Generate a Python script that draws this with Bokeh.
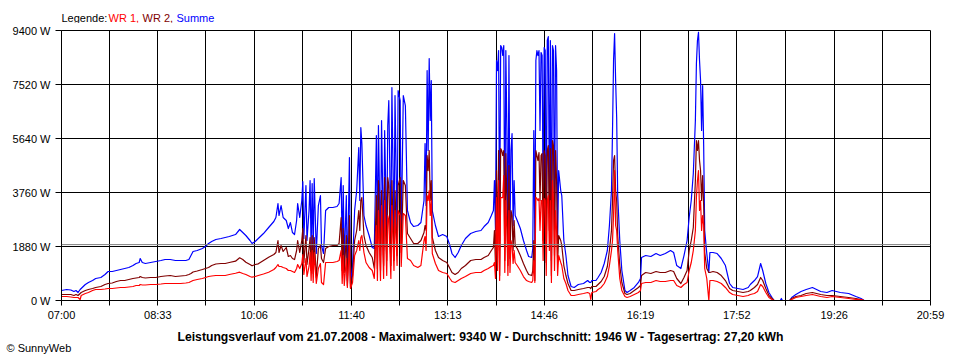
from bokeh.plotting import figure
from bokeh.layouts import column
from bokeh.models import FixedTicker, Span, Label, Range1d
from bokeh.embed import file_html
from bokeh.resources import INLINE

# time of each sample, minutes after midnight
zeit = [
    420, 425, 429, 432, 434, 436, 438, 439, 443, 446,
    450, 453, 458, 462, 465, 469, 473, 477, 481, 485,
    489, 492, 495, 496, 498, 501, 506, 511, 516, 520,
    525, 530, 535, 540, 543, 545, 547, 551, 556, 559,
    562, 565, 569, 574, 578, 582, 588, 592, 595, 598,
    602, 604, 607, 610, 615, 620, 625, 627, 629, 630,
    632, 634, 637, 639, 641, 643, 645, 647, 648, 650,
    652, 653, 654, 656, 657, 659, 660, 661, 662, 663,
    664, 666, 668, 670, 671, 673, 675, 678, 682, 686,
    688, 690, 691, 692, 693, 695, 696, 698, 699, 701,
    703, 705, 707, 708, 709, 710, 712, 714, 717, 720,
    722, 724, 725, 726, 728, 729, 731, 732, 734, 735,
    736, 738, 739, 741, 742, 744, 745, 747, 748, 750,
    752, 754, 757, 760, 764, 767, 770, 771, 772, 773,
    774, 775, 776, 777, 778, 781, 784, 788, 792, 795,
    797, 800, 803, 806, 810, 815, 820, 825, 828, 832,
    835, 837, 838, 839, 840, 841, 842, 843, 844, 845,
    846, 847, 848, 849, 850, 851, 852, 853, 854, 855,
    856, 857, 858, 860, 863, 866, 869, 871, 874, 875,
    876, 877, 878, 879, 880, 881, 882, 883, 884, 885,
    886, 887, 888, 889, 890, 891, 892, 893, 894, 895,
    896, 897, 898, 899, 900, 902, 903, 905, 907, 909,
    912, 915, 919, 924, 928, 930, 931, 932, 936, 938,
    941, 944, 947, 949, 951, 952, 953, 954, 955, 956,
    957, 959, 961, 964, 966, 969, 973, 977, 979, 980,
    984, 989, 994, 998, 1003, 1008, 1011, 1014, 1018, 1021,
    1024, 1026, 1028, 1030, 1032, 1033, 1034, 1035, 1036, 1037,
    1038, 1039, 1040, 1041, 1043, 1045, 1046, 1049, 1053, 1057,
    1061, 1065, 1068, 1073, 1078, 1083, 1085, 1089, 1092, 1095,
    1097, 1100, 1103, 1106, 1108, 1114, 1115, 1116, 1123, 1125,
    1129, 1134, 1139, 1145, 1149, 1153, 1159, 1164, 1172, 1180,
    1187, 1192, 1195,
]

summe = [
    348, 383, 365, 313, 348, 278, 383, 418, 557, 627,
    696, 766, 801, 905, 1009, 1009, 1044, 1079, 1114, 1149,
    1218, 1288, 1323, 1462, 1323, 1288, 1323, 1358, 1392, 1427,
    1427, 1392, 1392, 1392, 1427, 1566, 1706, 1741, 1810, 1880,
    1984, 2054, 2123, 2158, 2193, 2228, 2297, 2472, 2367, 2263,
    2089, 1984, 2054, 2158, 2332, 2541, 2750, 2889, 3377, 2959,
    3307, 2889, 2785, 2506, 2715, 2367, 2297, 2785, 3377, 2889,
    3481, 4142, 2158, 4003, 2089, 3133, 4177, 1741, 4073, 1671,
    4247, 1636, 3307, 3655, 1915, 1636, 3133, 3237, 3237, 3272,
    3377, 4282, 1636, 4003, 1323, 3655, 696, 4978, 592, 1218,
    3133, 3829, 5326, 3481, 6022, 5465, 2959, 2611, 2263, 1845,
    1810, 5744, 1741, 6092, 1566, 6266, 1741, 5918, 2089, 6092,
    6962, 1984, 7415, 2089, 7136, 2193, 7310, 6962, 2089, 7136,
    6788, 3133, 2715, 2576, 2611, 2715, 3481, 5465, 3307, 8006,
    5222, 8424, 6266, 7658, 3133, 2611, 2228, 2297, 2228, 1915,
    1636, 1497, 1671, 1915, 2158, 2332, 2402, 2437, 2576, 2715,
    2959, 3133, 4177, 2437, 8354, 8006, 8703, 2089, 8877, 8807,
    8529, 8877, 2089, 8703, 5918, 1915, 8529, 2437, 5222, 5813,
    2611, 4177, 2959, 2785, 2506, 2089, 1741, 1532, 1497, 1810,
    5918, 2089, 8354, 8703, 8529, 8703, 5918, 8633, 8529, 3481,
    8807, 8703, 2089, 9051, 9190, 3481, 9051, 1392, 8877, 8703,
    2437, 8877, 8006, 2089, 4525, 3829, 3655, 2089, 1566, 870,
    487, 453, 557, 592, 696, 627, 627, 696, 696, 801,
    975, 1288, 1741, 2611, 3829, 5918, 8354, 9294, 7658, 6370,
    3655, 2089, 1044, 348, 278, 348, 453, 627, 766, 1497,
    1566, 1532, 1636, 1566, 1636, 1741, 1671, 1218, 1114, 1566,
    2089, 2889, 3481, 4421, 6266, 8250, 9051, 9340, 8354, 7658,
    5918, 7484, 5396, 2437, 1636, 975, 1671, 1671, 1636, 1462,
    1218, 592, 453, 418, 383, 453, 557, 696, 835, 1288,
    1044, 592, 278, 104, 0, 0, 70, 0, 0, 104,
    209, 313, 383, 453, 383, 313, 278, 348, 278, 244,
    139, 70, 0,
]

wr2 = [
    209, 209, 209, 174, 209, 174, 244, 278, 348, 383,
    418, 453, 487, 557, 592, 609, 661, 696, 696, 731,
    766, 783, 801, 835, 801, 783, 801, 801, 835, 853,
    870, 835, 853, 870, 905, 940, 992, 1027, 1079, 1114,
    1149, 1218, 1271, 1288, 1288, 1323, 1368, 1486, 1427, 1333,
    1253, 1208, 1253, 1278, 1392, 1507, 1601, 1671, 2089, 1671,
    1915, 1706, 1845, 1532, 1566, 1462, 1427, 1741, 2089, 1671,
    2089, 2506, 1323, 2263, 1253, 1810, 2193, 1044, 2263, 940,
    2193, 801, 1810, 1915, 1462, 1323, 1810, 1880, 1915, 1915,
    1984, 2889, 1044, 2506, 975, 2263, 522, 2959, 453, 870,
    2089, 2437, 3133, 2437, 3481, 3585, 2263, 1915, 1671, 1497,
    1114, 3655, 1114, 4177, 1044, 3829, 1218, 4282, 1392, 4282,
    4003, 1218, 4177, 1392, 3829, 1566, 4003, 4282, 1671, 4177,
    4003, 2332, 2158, 1984, 1984, 2089, 2367, 2611, 2437, 5047,
    4525, 5222, 3481, 4177, 2193, 1741, 1497, 1392, 1323, 1114,
    975, 905, 975, 1114, 1218, 1392, 1427, 1427, 1497, 1566,
    1741, 1845, 2437, 1218, 4525, 1741, 5222, 870, 5292, 5222,
    5047, 5222, 1392, 5117, 3481, 1218, 4699, 1462, 3133, 2959,
    1741, 2785, 1915, 1810, 1566, 1288, 1044, 905, 870, 1044,
    2089, 696, 5222, 5047, 4873, 5152, 3481, 5047, 5117, 2089,
    5222, 5047, 1323, 5222, 5396, 2437, 5292, 870, 5570, 5396,
    1566, 5222, 4177, 1323, 2263, 2089, 1915, 1218, 870, 592,
    348, 348, 383, 418, 453, 453, 418, 487, 487, 557,
    661, 835, 1184, 1741, 2437, 3481, 4873, 5047, 3829, 3481,
    2263, 1218, 627, 244, 209, 244, 348, 453, 522, 870,
    975, 940, 1009, 975, 975, 1044, 1009, 766, 592, 801,
    1044, 1741, 2089, 2541, 4177, 5570, 5222, 5570, 4873, 4525,
    3481, 4351, 3307, 1671, 1114, 975, 975, 1009, 975, 870,
    696, 418, 348, 313, 278, 313, 348, 453, 557, 801,
    696, 418, 174, 70, 0, 0, 0, 0, 0, 70,
    139, 174, 244, 278, 244, 209, 174, 174, 139, 104,
    70, 35, 0,
]

wr1 = [
    139, 139, 122, 104, 104, 104, 35, 174, 244, 278,
    348, 383, 383, 400, 418, 418, 435, 453, 453, 470,
    487, 522, 522, 557, 540, 540, 557, 557, 574, 592,
    592, 592, 592, 609, 627, 661, 696, 731, 766, 801,
    835, 853, 870, 870, 870, 905, 950, 985, 940, 905,
    835, 811, 835, 870, 922, 985, 1079, 1149, 1253, 1184,
    1184, 1149, 1114, 1044, 1044, 1009, 975, 1114, 1253, 1114,
    1288, 1601, 905, 1462, 835, 1184, 1671, 696, 1741, 627,
    1671, 592, 1114, 1288, 627, 557, 1323, 1323, 1323, 1358,
    1392, 1741, 592, 1566, 522, 1462, 453, 1915, 418, 627,
    1566, 1741, 2089, 1741, 2193, 2263, 1671, 1323, 1149, 1044,
    766, 2611, 696, 3133, 696, 3307, 766, 3481, 870, 2959,
    2785, 766, 3307, 1044, 3133, 1218, 3133, 2959, 1184, 3028,
    2959, 1462, 1392, 1218, 1149, 1218, 2089, 2228, 1741, 3655,
    3481, 3829, 2959, 3481, 1636, 1288, 1044, 975, 940, 766,
    661, 627, 696, 766, 835, 940, 975, 975, 1044, 1114,
    1184, 1218, 1323, 766, 3585, 1044, 4177, 696, 3585, 3585,
    3585, 4351, 975, 3481, 2437, 870, 3133, 975, 2089, 1915,
    1288, 1741, 1323, 1218, 1044, 835, 696, 661, 627, 696,
    1392, 627, 3585, 3550, 3481, 3550, 2437, 3481, 3481, 1392,
    3550, 3481, 870, 3481, 3655, 1741, 3481, 627, 4177, 3481,
    1044, 3133, 2437, 870, 1566, 1323, 1218, 766, 592, 348,
    174, 174, 209, 244, 278, 244, 35, 278, 313, 383,
    453, 592, 835, 1218, 1741, 2089, 2959, 4525, 2611, 2437,
    1741, 766, 348, 139, 104, 139, 209, 278, 348, 592,
    627, 627, 696, 661, 661, 696, 696, 522, 453, 557,
    627, 1044, 1323, 1741, 2437, 3585, 4177, 4525, 3133, 3481,
    2437, 2959, 2611, 1114, 766, 0, 696, 696, 661, 592,
    453, 278, 209, 174, 139, 174, 209, 244, 313, 557,
    487, 278, 104, 35, 0, 0, 0, 0, 0, 35,
    104, 139, 174, 209, 174, 139, 104, 139, 104, 70,
    35, 35, 0,
]

x_labels = ["07:00", "08:33", "10:06", "11:40", "13:13",
            "14:46", "16:19", "17:52", "19:26", "20:59"]
y_ticks = [0, 1880, 3760, 5640, 7520, 9400]
durchschnitt = 1946
legend_parts = [("Legende:", "#000000"), ("WR 1,", "#FF0000"),
                ("WR 2,", "#800000"), ("Summe", "#0000FF")]
footer = ("Leistungsverlauf vom 21.07.2008 - Maximalwert: 9340 W - "
          "Durchschnitt: 1946 W - Tagesertrag: 27,20 kWh")
copyright_text = "\u00a9 SunnyWeb"


def to_min(s):
    h, m = s.split(":")
    return int(h) * 60 + int(m)


x_major = [to_min(s) for s in x_labels]
x_minor = [(a + b) / 2 for a, b in zip(x_major[:-1], x_major[1:])]
x0, x1 = x_major[0], x_major[-1]
y0, y1 = y_ticks[0], y_ticks[-1]

FONT = "Liberation Sans"
W = 960
TOP_H = 23
FW, FH = 869, 270
LEFT, RIGHT = 61, 30
MAIN_TOP, MAIN_BOT = 7, 60

# minutes per pixel and watts per pixel, for placing texts by pixel offset
mpp = (x1 - x0) / FW
wpp = (y1 - y0) / FH

# --- legend strip above the chart (its frame lines up with the chart frame) ---
top = figure(width=W, height=TOP_H, x_range=Range1d(x0, x1),
             y_range=Range1d(TOP_H, 0), x_axis_type=None, y_axis_type=None,
             output_backend="svg", toolbar_location=None,
             min_border=0, min_border_left=0, min_border_right=0,
             min_border_top=0, min_border_bottom=0,
             background_fill_color="white", border_fill_color="white")
top.outline_line_color = None
leg_dx = [0, 47, 81, 115]
for (txt, col), dx in zip(legend_parts, leg_dx):
    top.add_layout(Label(x=x0 + dx * mpp, y=17, text=txt, text_color=col,
                         text_font=FONT, text_font_size="11px",
                         text_baseline="middle", text_align="left"))

# --- main chart ---
p = figure(frame_width=FW, frame_height=FH,
           min_border_left=LEFT, min_border_right=RIGHT,
           min_border_top=MAIN_TOP, min_border_bottom=MAIN_BOT,
           x_range=(x0, x1), y_range=(y0, y1),
           output_backend="svg", toolbar_location=None,
           background_fill_color="white", border_fill_color="white")

xt = FixedTicker(ticks=x_major, minor_ticks=x_minor)
p.xaxis.ticker = xt
p.xgrid.ticker = xt
p.xaxis.major_label_overrides = {m: s for m, s in zip(x_major, x_labels)}
yt = FixedTicker(ticks=y_ticks, minor_ticks=[])
p.yaxis.ticker = yt
p.ygrid.ticker = yt
p.yaxis.major_label_overrides = {v: f"{v} W" for v in y_ticks}

for g in (p.xgrid, p.ygrid):
    g.grid_line_color = "black"
    g.grid_line_alpha = 1.0
    g.grid_line_width = 1
p.xgrid.minor_grid_line_color = "black"
p.xgrid.minor_grid_line_alpha = 1.0

for ax in (p.xaxis, p.yaxis):
    ax.axis_line_color = "black"
    ax.major_tick_line_color = "black"
    ax.major_tick_in = 0
    ax.major_label_text_font = FONT
    ax.major_label_text_font_size = "11px"
    ax.major_label_text_color = "black"
p.xaxis.major_tick_out = 5
p.xaxis.minor_tick_out = 5
p.xaxis.minor_tick_in = 0
p.xaxis.minor_tick_line_color = "black"
p.xaxis.major_label_standoff = 3
p.yaxis.major_tick_out = 6
p.yaxis.minor_tick_line_color = None
p.yaxis.major_label_standoff = 5
p.outline_line_color = "black"
p.outline_line_alpha = 1.0

p.add_layout(Span(location=durchschnitt, dimension="width",
                  line_color="#808080", line_width=1))

p.line(zeit, summe, line_color="#0000FF", line_width=1.2, line_join="round")
p.line(zeit, wr2, line_color="#800000", line_width=1.2, line_join="round")
p.line(zeit, wr1, line_color="#FF0000", line_width=1.2, line_join="round")

# footer and copyright live in the chart's bottom panel (not clipped there)
p.add_layout(Label(x=x0 + 419 * mpp, y=y0 - 36 * wpp, text=footer,
                   text_color="black", text_font=FONT, text_font_size="12.2px",
                   text_font_style="bold", text_baseline="middle",
                   text_align="center"), "below")
p.add_layout(Label(x=x0 - 55 * mpp, y=y0 - 47 * wpp, text=copyright_text,
                   text_color="black", text_font=FONT, text_font_size="11px",
                   text_baseline="middle", text_align="left"), "below")

layout = column(top, p, spacing=0)
open("out.html", "w").write(file_html(layout, INLINE))
